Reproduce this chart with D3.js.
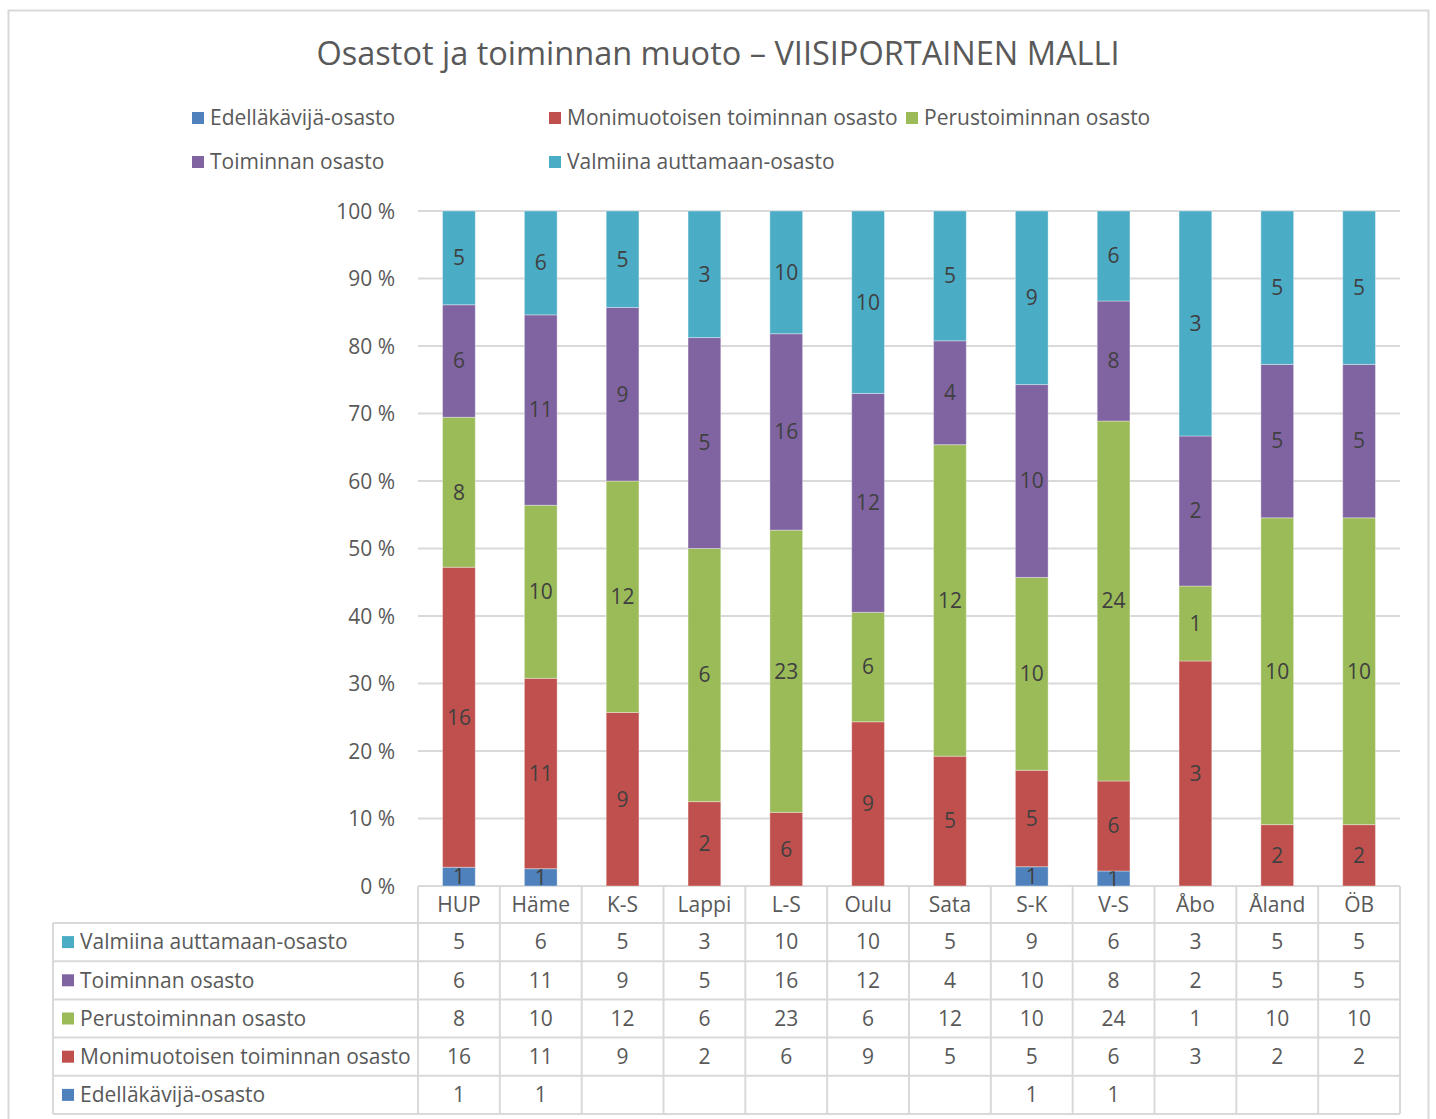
<!DOCTYPE html>
<html>
<head>
<meta charset="utf-8">
<script src="https://cdn.jsdelivr.net/npm/d3@7"></script>
<style>
  body { margin: 0; background: #fff; }
  text { font-family: "Open Sans", "Noto Sans", sans-serif; fill: #595959; }
</style>
</head>
<body>
<script>
// data
var categories = ["HUP", "Häme", "K-S", "Lappi", "L-S", "Oulu", "Sata", "S-K", "V-S", "Åbo", "Åland", "ÖB"];
var seriesNames = ["Edelläkävijä-osasto", "Monimuotoisen toiminnan osasto", "Perustoiminnan osasto", "Toiminnan osasto", "Valmiina auttamaan-osasto"];
var edellakavija = [1, 1, null, null, null, null, null, 1, 1, null, null, null];
var monimuotoisen = [16, 11, 9, 2, 6, 9, 5, 5, 6, 3, 2, 2];
var perustoiminnan = [8, 10, 12, 6, 23, 6, 12, 10, 24, 1, 10, 10];
var toiminnan = [6, 11, 9, 5, 16, 12, 4, 10, 8, 2, 5, 5];
var valmiina = [5, 6, 5, 3, 10, 10, 5, 9, 6, 3, 5, 5];
var yTicks = [0, 0.1, 0.2, 0.3, 0.4, 0.5, 0.6, 0.7, 0.8, 0.9, 1];
var colors = ["#4f81bd", "#c0504d", "#9bbb59", "#8064a2", "#4bacc6"];

var seriesValues = [edellakavija, monimuotoisen, perustoiminnan, toiminnan, valmiina];
var fs = "21px"; //font size used for most texts

var rows = categories.map(function(c, i){
    var r = { cat: c };
    seriesNames.forEach(function(s, j){ r[s] = seriesValues[j][i] || 0; });
    return r;
});

var svg = d3.select("body").append("svg")
    .attr("width", 1436)
    .attr("height", 1119);

// outer chart border
svg.append("rect")
    .attr("x", 8.5).attr("y", 10.5)
    .attr("width", 1420).attr("height", 1130)
    .style("fill", "none")
    .style("stroke", "#d9d9d9")
    .style("stroke-width", 2);

// title
svg.append("text")
    .attr("x", 718).attr("y", 65)
    .attr("text-anchor", "middle")
    .style("font-size", "32.5px")
    .text("Osastot ja toiminnan muoto – VIISIPORTAINEN MALLI");

// legend
var legendPos = [[192, 118], [549, 118], [906, 118], [192, 162], [549, 162]];
var legend = svg.selectAll(".legend")
    .data(seriesNames)
    .enter()
    .append("g")
    .attr("class", "legend")
    .attr("transform", function(d, i){ return "translate(" + legendPos[i][0] + "," + legendPos[i][1] + ")"; });
legend.append("rect")
    .attr("x", 0).attr("y", -6)
    .attr("width", 12).attr("height", 12)
    .style("fill", function(d, i){ return colors[i]; });
legend.append("text")
    .attr("x", 18).attr("y", 7)
    .style("font-size", fs)
    .text(function(d){ return d; });

// scales
var plotLeft = 418, plotRight = 1400, plotTop = 211, plotBottom = 886;
var x = d3.scaleBand()
    .domain(categories)
    .range([plotLeft, plotRight])
    .paddingInner(0.6)
    .paddingOuter(0.3);
var col = d3.scaleBand()
    .domain(categories)
    .range([plotLeft, plotRight]);
var y = d3.scaleLinear()
    .domain([0, 1])
    .range([plotBottom, plotTop]);

// gridlines
svg.append("g")
    .selectAll("line")
    .data(yTicks)
    .enter()
    .append("line")
    .attr("x1", plotLeft).attr("x2", plotRight)
    .attr("y1", function(d){ return y(d); })
    .attr("y2", function(d){ return y(d); })
    .style("stroke", "#d9d9d9")
    .style("stroke-width", 2);

// y axis labels
var yAxis = d3.axisLeft(y)
    .tickValues(yTicks)
    .tickSize(0)
    .tickPadding(0)
    .tickFormat(function(d){ return Math.round(d * 100) + " %"; });
var yAxisG = svg.append("g")
    .attr("transform", "translate(395,0)")
    .call(yAxis);
yAxisG.select(".domain").remove();
yAxisG.selectAll("text")
    .style("font-size", fs)
    .style("font-family", "'Open Sans', sans-serif")
    .style("fill", "#595959")
    .attr("dy", "0.35em");

// stacked bars
var stack = d3.stack()
    .keys(seriesNames)
    .offset(d3.stackOffsetExpand);
var stacked = stack(rows);

var layers = svg.selectAll(".layer")
    .data(stacked)
    .enter()
    .append("g")
    .attr("class", "layer")
    .style("fill", function(d, i){ return colors[i]; });

layers.selectAll("rect")
    .data(function(d){ return d; })
    .enter()
    .append("rect")
    .attr("x", function(d){ return x(d.data.cat); })
    .attr("width", x.bandwidth())
    .attr("y", function(d){ return y(d[1]); })
    .attr("height", function(d){ return y(d[0]) - y(d[1]); })
    .style("stroke", "rgba(255,255,255,0.35)")
    .style("stroke-width", 1);

// data labels
layers.each(function(layer, li){
    d3.select(this).selectAll("text")
        .data(layer.filter(function(d){ return d.data[layer.key] > 0; }))
        .enter()
        .append("text")
        .attr("x", function(d){ return x(d.data.cat) + x.bandwidth() / 2; })
        .attr("y", function(d){ return (y(d[0]) + y(d[1])) / 2; })
        .attr("dy", "0.35em")
        .attr("text-anchor", "middle")
        .style("font-size", fs)
        .style("fill", "#404040")
        .text(function(d){ return d.data[layer.key]; });
});

// data table
var tableLeft = 53, headerBottom = 923, rowH = 38.2;
var tableOrder = [4, 3, 2, 1, 0];
var tableBottom = headerBottom + rowH * tableOrder.length;
var gridStyle = function(sel){
    return sel.style("stroke", "#d9d9d9").style("stroke-width", 2);
};

// horizontal lines
var hLines = d3.range(tableOrder.length + 1).map(function(i){ return headerBottom + i * rowH; });
gridStyle(svg.append("g").selectAll("line")
    .data(hLines)
    .enter()
    .append("line")
    .attr("x1", tableLeft).attr("x2", plotRight)
    .attr("y1", function(d){ return d; })
    .attr("y2", function(d){ return d; }));

// vertical lines between category columns
var vLines = categories.map(function(c){ return col(c); }).concat([plotRight]);
gridStyle(svg.append("g").selectAll("line")
    .data(vLines)
    .enter()
    .append("line")
    .attr("x1", function(d){ return d; })
    .attr("x2", function(d){ return d; })
    .attr("y1", plotBottom)
    .attr("y2", tableBottom));
gridStyle(svg.append("line")
    .attr("x1", tableLeft).attr("x2", tableLeft)
    .attr("y1", headerBottom).attr("y2", tableBottom));

// category header
svg.append("g").selectAll("text")
    .data(categories)
    .enter()
    .append("text")
    .attr("x", function(d){ return col(d) + col.bandwidth() / 2; })
    .attr("y", (plotBottom + headerBottom) / 2)
    .attr("dy", "0.35em")
    .attr("text-anchor", "middle")
    .style("font-size", fs)
    .text(function(d){ return d; });

// table rows
var tRows = svg.selectAll(".trow")
    .data(tableOrder)
    .enter()
    .append("g")
    .attr("class", "trow")
    .attr("transform", function(d, i){ return "translate(0," + (headerBottom + i * rowH + rowH / 2) + ")"; });
tRows.append("rect")
    .attr("x", 62).attr("y", -6)
    .attr("width", 12).attr("height", 12)
    .style("fill", function(d){ return colors[d]; });
tRows.append("text")
    .attr("x", 80).attr("dy", "0.35em")
    .style("font-size", fs)
    .text(function(d){ return seriesNames[d]; });
tRows.each(function(si){
    d3.select(this).selectAll(".cell")
        .data(categories.map(function(c, ci){ return { cat: c, v: seriesValues[si][ci] }; })
            .filter(function(d){ return d.v != null; }))
        .enter()
        .append("text")
        .attr("class", "cell")
        .attr("x", function(d){ return col(d.cat) + col.bandwidth() / 2; })
        .attr("dy", "0.35em")
        .attr("text-anchor", "middle")
        .style("font-size", fs)
        .text(function(d){ return d.v; });
});
</script>
</body>
</html>
